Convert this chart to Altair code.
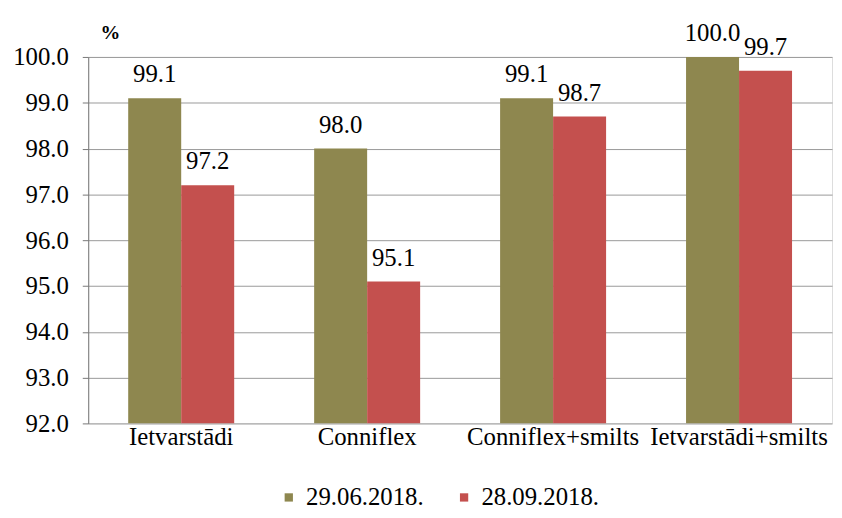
import altair as alt
import pandas as pd

categories = ["Ietvarstādi", "Conniflex", "Conniflex+smilts", "Ietvarstādi+smilts"]
series = ["29.06.2018.", "28.09.2018."]
values_jun = [99.1, 98.0, 99.1, 100.0]
values_sep = [97.2, 95.1, 98.7, 99.7]
colors = ["#8E874F", "#C4504E"]

rows = []
for c, a, b in zip(categories, values_jun, values_sep):
    rows.append({"cat": c, "series": series[0], "value": a, "label": f"{a:.1f}"})
    rows.append({"cat": c, "series": series[1], "value": b, "label": f"{b:.1f}"})
df = pd.DataFrame(rows)

FONT = "Liberation Serif"
FS = 25

x = alt.X("cat:N", sort=categories, title=None,
          scale=alt.Scale(paddingInner=0.43, paddingOuter=0.215),
          axis=alt.Axis(labelAngle=0, labelFontSize=FS, labelFont=FONT, labelColor="#000",
                        ticks=False, domain=False, labelPadding=1))
y = alt.Y("value:Q", title="%",
          scale=alt.Scale(domain=[92, 100], zero=False, clamp=True),
          axis=alt.Axis(values=[92, 93, 94, 95, 96, 97, 98, 99, 100], format=".1f",
                        labelFontSize=FS, labelFont=FONT, labelColor="#000",
                        domainColor="#777", tickColor="#777", tickSize=6, labelPadding=14,
                        gridColor="#999", gridWidth=1,
                        titleAngle=0, titleX=22, titleY=-25, titleFontSize=20,
                        titleFont=FONT, titleFontWeight="bold", titleBaseline="middle",
                        titleAlign="center", titleColor="#000"))
xo = alt.XOffset("series:N", sort=series)
color = alt.Color("series:N", sort=series, title=None,
                  scale=alt.Scale(domain=series, range=colors),
                  legend=alt.Legend(orient="none", direction="horizontal", legendX=190,
                                    legendY=432, symbolType="square", symbolSize=70,
                                    labelFontSize=FS, labelFont=FONT, labelColor="#000",
                                    columnPadding=28, symbolStrokeWidth=0, labelOffset=5))

bars = alt.Chart(df).mark_bar(clip=True).encode(x=x, y=y, xOffset=xo, color=color)
text = alt.Chart(df).mark_text(dy=-24, fontSize=FS, font=FONT, color="#000", clip=False).encode(
    x=x, y=y, xOffset=xo, text="label:N")

chart = (bars + text).properties(
    width=751, height=370,
    autosize=alt.AutoSizeParams(type="none"),
    padding={"left": 81, "top": 47, "right": 2, "bottom": 85},
).configure_view(stroke="#777", strokeWidth=1).configure(background="white")

chart.save("out.html", embed_options={"renderer": "svg", "actions": False})
